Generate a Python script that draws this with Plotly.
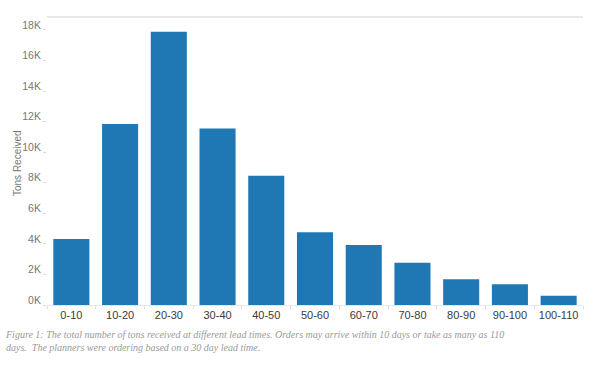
import plotly.graph_objects as go

categories = ["0-10", "10-20", "20-30", "30-40", "40-50", "50-60",
              "60-70", "70-80", "80-90", "90-100", "100-110"]
tons_received = [4320, 11850, 17890, 11560, 8460, 4760, 3930, 2770, 1680, 1350, 610]
y_tick_values = [0, 2000, 4000, 6000, 8000, 10000, 12000, 14000, 16000, 18000]
y_tick_labels = ["0K", "2K", "4K", "6K", "8K", "10K", "12K", "14K", "16K", "18K"]
caption = ("Figure 1: The total number of tons received at different lead times. "
           "Orders may arrive within 10 days or take as many as 110<br>"
           "days.&nbsp; The planners were ordering based on a 30 day lead time.")

W, H = 600, 369
L, R, T, B = 47, 17, 17, 64
plot_w = W - L - R
plot_h = H - T - B

fig = go.Figure(go.Bar(
    x=categories, y=tons_received,
    marker=dict(color="#1f77b4", line=dict(width=0)),
    hoverinfo="x+y",
))

fig.update_layout(
    width=W, height=H,
    margin=dict(l=L, r=R, t=T, b=B, pad=0),
    paper_bgcolor="white", plot_bgcolor="white",
    bargap=0.26,
    showlegend=False,
    font=dict(family="Liberation Sans, Arial, sans-serif"),
)

fig.update_xaxes(
    showgrid=False, zeroline=False,
    showline=True, linecolor="#e6e6e6", linewidth=1,
    ticks="outside", tickson="boundaries", ticklen=3, tickcolor="#e0e0e0",
    tickfont=dict(size=11, color="#3a3a3a"),
)

fig.update_yaxes(
    range=[0, 18850],
    showgrid=False, zeroline=False, showline=False,
    tickvals=y_tick_values, ticktext=y_tick_labels,
    ticks="outside", ticklen=3, tickcolor="#dddddd",
    ticklabelshift=-5,
    tickfont=dict(size=10.5, color="#777777"),
)

# top frame line
fig.add_shape(type="line", xref="paper", yref="paper",
              x0=0, x1=1, y0=1, y1=1,
              line=dict(color="#e8e8e8", width=2))

# y-axis title
fig.add_annotation(
    text="Tons Received", xref="paper", yref="paper",
    x=(17 - L) / plot_w, y=(H - B - 163) / plot_h,
    xanchor="center", yanchor="middle", textangle=-90, showarrow=False,
    font=dict(size=10, color="#777777"),
)

# caption
fig.add_annotation(
    text="<i>" + caption + "</i>", xref="paper", yref="paper",
    x=(3 - L) / plot_w, y=(H - B - 327) / plot_h,
    xanchor="left", yanchor="top", align="left", showarrow=False,
    font=dict(size=10, color="#9a9a9a", family="Liberation Serif, Times New Roman, serif"),
)

fig.write_html("out.html",
               config={"displayModeBar": False},
               post_script="document.body.style.margin='0';document.body.style.overflow='hidden';")
